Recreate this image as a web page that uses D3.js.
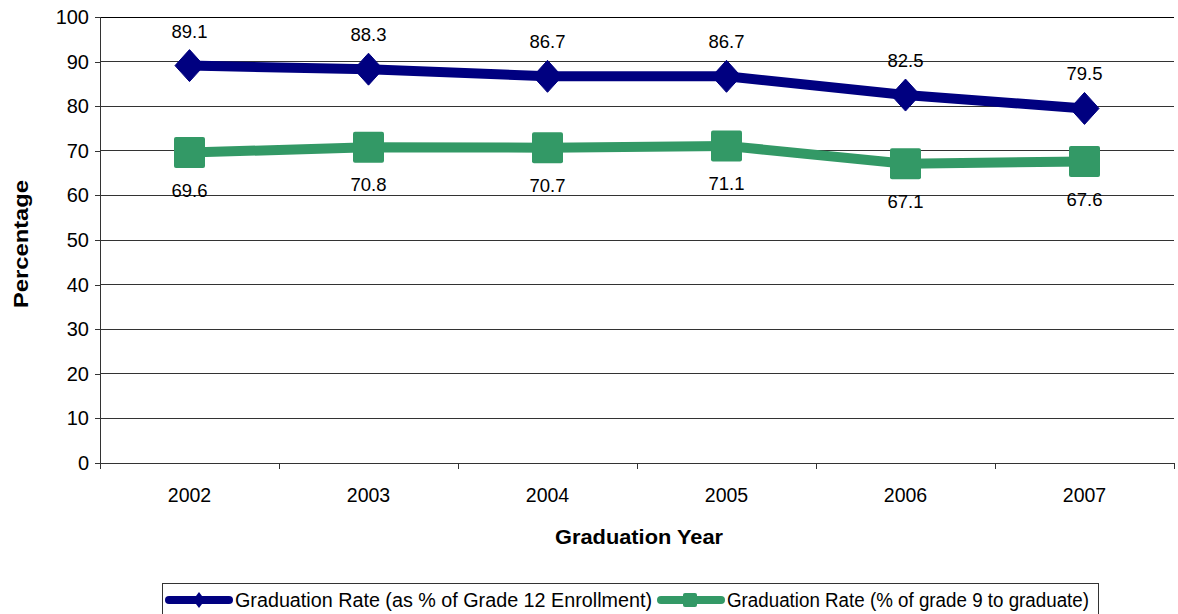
<!DOCTYPE html>
<html>
<head>
<meta charset="utf-8">
<script src="https://cdn.jsdelivr.net/npm/d3@7"></script>
<style>
  body { margin: 0; background: #fff; }
  text { font-family: Arial, "Liberation Sans", sans-serif; }
</style>
</head>
<body>
<svg width="1178" height="614"></svg>
<script>
const years = ["2002", "2003", "2004", "2005", "2006", "2007"];
const grade12Rate = [89.1, 88.3, 86.7, 86.7, 82.5, 79.5];
const grade9Rate = [69.6, 70.8, 70.7, 71.1, 67.1, 67.6];
const yTicks = [0, 10, 20, 30, 40, 50, 60, 70, 80, 90, 100];
const seriesNames = [
  "Graduation Rate (as % of Grade 12 Enrollment)",
  "Graduation Rate (% of grade 9 to graduate)"
];

const navy = "#000080";
const green = "#339966";

const svg = d3.select("svg");
const margin = { left: 100, right: 4, top: 17, bottom: 151 };
const width = 1178 - margin.left - margin.right;
const height = 614 - margin.top - margin.bottom;

const g = svg.append("g").attr("transform", `translate(${margin.left},${margin.top})`);

const x = d3.scaleBand().domain(years).range([0, width]);
const y = d3.scaleLinear().domain([0, 100]).range([height, 0]);

// gridlines
g.selectAll(".grid")
  .data(yTicks)
  .join("line")
  .attr("x1", 0)
  .attr("x2", width)
  .attr("y1", (d) => y(d))
  .attr("y2", (d) => y(d))
  .attr("stroke", (d) => (d === 100 ? "#000" : "#333"))
  .attr("stroke-width", 1)
  .attr("shape-rendering", "crispEdges");

// y axis
const yAxis = g.append("g")
  .call(d3.axisLeft(y).tickValues(yTicks).tickSize(5).tickPadding(6));
yAxis.select(".domain").attr("stroke", "#333").attr("shape-rendering", "crispEdges");
yAxis.selectAll(".tick line").attr("stroke", "#333").attr("shape-rendering", "crispEdges");
yAxis.selectAll("text").attr("font-size", 20).attr("fill", "#000");

// x axis
const xAxis = g.append("g")
  .attr("transform", `translate(0,${height})`)
  .call(d3.axisBottom(x).tickSize(0).tickPadding(25));
xAxis.select(".domain").attr("stroke", "#333").attr("shape-rendering", "crispEdges");
xAxis.selectAll("text").attr("font-size", 19.5).attr("fill", "#000");

// category boundary ticks
g.append("g")
  .selectAll("line")
  .data(years.map((d) => x(d)).concat([width]))
  .join("line")
  .attr("x1", (d) => d)
  .attr("x2", (d) => d)
  .attr("y1", height)
  .attr("y2", height + 6)
  .attr("stroke", "#333")
  .attr("shape-rendering", "crispEdges");

const cx = (i) => x(years[i]) + x.bandwidth() / 2;
const line = d3.line().x((d, i) => cx(i)).y((d) => y(d));

// series lines
g.append("path").datum(grade12Rate)
  .attr("d", line).attr("fill", "none").attr("stroke", navy).attr("stroke-width", 10);
g.append("path").datum(grade9Rate)
  .attr("d", line).attr("fill", "none").attr("stroke", green).attr("stroke-width", 10);

// markers
const diamondPath = "M0,-16L14.5,0L0,16L-14.5,0Z";
g.selectAll(".dia")
  .data(grade12Rate)
  .join("path")
  .attr("d", diamondPath)
  .attr("transform", (d, i) => `translate(${cx(i)},${y(d)})`)
  .attr("fill", navy)
  .attr("stroke", navy)
  .attr("stroke-linejoin", "round")
  .attr("stroke-width", 1);

g.selectAll(".sq")
  .data(grade9Rate)
  .join("rect")
  .attr("x", (d, i) => cx(i) - 15.5)
  .attr("y", (d) => y(d) - 15.5)
  .attr("width", 31)
  .attr("height", 31)
  .attr("rx", 2)
  .attr("fill", green);

// data labels
g.selectAll(".lab12")
  .data(grade12Rate)
  .join("text")
  .attr("x", (d, i) => cx(i))
  .attr("y", (d) => y(d) - 28)
  .attr("text-anchor", "middle")
  .attr("font-size", 18.5)
  .text((d) => d.toFixed(1));

g.selectAll(".lab9")
  .data(grade9Rate)
  .join("text")
  .attr("x", (d, i) => cx(i))
  .attr("y", (d) => y(d) + 44)
  .attr("text-anchor", "middle")
  .attr("font-size", 18.5)
  .text((d) => d.toFixed(1));

// axis titles
svg.append("text")
  .attr("transform", `translate(28,244) rotate(-90)`)
  .attr("text-anchor", "middle")
  .attr("font-size", 20)
  .attr("font-weight", "bold")
  .attr("textLength", 128)
  .attr("lengthAdjust", "spacingAndGlyphs")
  .text("Percentage");

svg.append("text")
  .attr("x", 639)
  .attr("y", 544)
  .attr("text-anchor", "middle")
  .attr("font-size", 20)
  .attr("font-weight", "bold")
  .attr("textLength", 168)
  .attr("lengthAdjust", "spacingAndGlyphs")
  .text("Graduation Year");

// legend
const legend = svg.append("g");
legend.append("rect")
  .attr("x", 162.5).attr("y", 583.5)
  .attr("width", 936).attr("height", 40)
  .attr("fill", "#fff").attr("stroke", "#333");

const legendItems = [
  { x: 165, color: navy, marker: "diamond", name: seriesNames[0], len: 417 },
  { x: 657, color: green, marker: "square", name: seriesNames[1], len: 362 }
];
const ly = 600;
legendItems.forEach((item) => {
  legend.append("line")
    .attr("x1", item.x + 4).attr("x2", item.x + 64)
    .attr("y1", ly).attr("y2", ly)
    .attr("stroke", item.color).attr("stroke-width", 8)
    .attr("stroke-linecap", "round");
  if (item.marker === "diamond") {
    legend.append("path")
      .attr("d", "M0,-8L6,0L0,8L-6,0Z")
      .attr("transform", `translate(${item.x + 34},${ly})`)
      .attr("fill", item.color);
  } else {
    legend.append("rect")
      .attr("x", item.x + 26).attr("y", ly - 7)
      .attr("width", 14).attr("height", 14)
      .attr("rx", 2)
      .attr("fill", item.color);
  }
  legend.append("text")
    .attr("x", item.x + 70).attr("y", ly + 7)
    .attr("font-size", 19.5)
    .attr("textLength", item.len)
    .attr("lengthAdjust", "spacingAndGlyphs")
    .text(item.name);
});
</script>
</body>
</html>
